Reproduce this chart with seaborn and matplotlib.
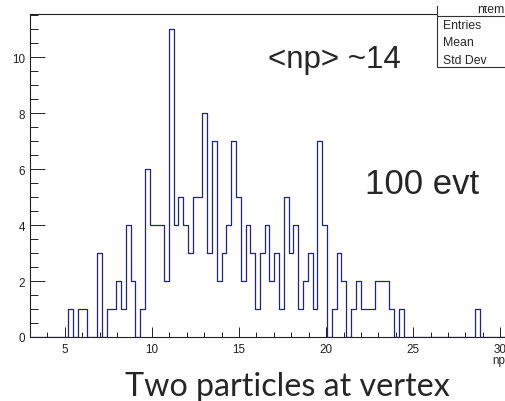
import numpy as np
import pandas as pd
import matplotlib
matplotlib.use("Agg")
import matplotlib.pyplot as plt
import seaborn as sns
from matplotlib.patches import Rectangle
from matplotlib.ticker import MultipleLocator

# ROOT-style histogram: 100 bins between 3 and 30.5
n_bins = 100
x_lo, x_hi = 3.0, 30.5

# entries per bin (10 bins per row)
counts = [
    0, 0, 0, 0, 0, 0, 0, 0, 1, 0,
    1, 1, 0, 0, 3, 0, 1, 1, 2, 1,
    4, 2, 0, 1, 6, 4, 4, 4, 2, 11,
    4, 5, 4, 3, 5, 5, 8, 3, 7, 2,
    3, 4, 7, 5, 2, 4, 3, 1, 3, 4,
    2, 3, 1, 5, 3, 4, 1, 2, 3, 1,
    7, 4, 0, 1, 3, 2, 0, 1, 2, 1,
    1, 1, 2, 2, 2, 1, 0, 1, 0, 0,
    0, 0, 0, 0, 0, 0, 0, 0, 0, 0,
    0, 0, 0, 1, 0, 0, 0, 0, 0, 0,
]

stat_labels = ["Entries", "Mean", "Std Dev"]
title_text = "Two particles at vertex"
mean_note = "<np> ~14"
events_note = "100 evt"

edges = np.linspace(x_lo, x_hi, n_bins + 1)
centers = 0.5 * (edges[:-1] + edges[1:])
df = pd.DataFrame({"np": centers, "entries": np.array(counts, dtype=float)})

sns.set_style("ticks")
plt.rcParams["font.family"] = ["Liberation Sans", "DejaVu Sans"]

W, H = 506, 402
fig = plt.figure(figsize=(W / 100, H / 100), dpi=100)


def fx(px):
    return px / W


def fy(py):
    return 1 - py / H


ax = fig.add_axes([fx(30), fy(338), 479 / W, 323 / H])
sns.histplot(data=df, x="np", weights="entries", bins=list(edges),
             element="step", fill=False, color="#22227f", linewidth=0.9, ax=ax)
ax.set_xlim(x_lo, x_hi)
ax.set_ylim(0, 11.55)
ax.set_xlabel("")
ax.set_ylabel("")

ax.xaxis.set_major_locator(MultipleLocator(5))
ax.xaxis.set_minor_locator(MultipleLocator(1))
ax.yaxis.set_major_locator(MultipleLocator(2))
ax.yaxis.set_minor_locator(MultipleLocator(0.5))
ax.tick_params(axis="x", which="major", direction="in", length=7.2, width=0.7,
               labelsize=8.4, pad=4, colors="#222222")
ax.tick_params(axis="x", which="minor", direction="in", length=3.6, width=0.7,
               colors="#222222")
ax.tick_params(axis="y", which="major", direction="in", length=10.8, width=0.7,
               labelsize=8.4, pad=3.5, colors="#222222")
ax.tick_params(axis="y", which="minor", direction="in", length=5.8, width=0.7,
               colors="#222222")
for side in ["left", "bottom", "top"]:
    ax.spines[side].set_color("#222222")
    ax.spines[side].set_linewidth(0.8)
ax.spines["right"].set_visible(False)

# x-axis title at the right end of the axis (ROOT style)
fig.text(fx(505), fy(364), "np", ha="right", va="baseline", fontsize=8.4)

# stats box, cut by the edge of the screenshot
fig.add_artist(Rectangle((fx(437), fy(68)), 0.2, 68 / H + 0.05,
                         transform=fig.transFigure, facecolor="white",
                         edgecolor="#333333", linewidth=0.8, zorder=5))
fig.add_artist(plt.Line2D([fx(437), 1.0], [fy(17.3), fy(17.3)],
                          transform=fig.transFigure, color="#333333",
                          linewidth=0.8, zorder=6))
fig.text(fx(477), fy(12.7), "ntem", fontsize=8.8, va="baseline", zorder=7)
fig.add_artist(Rectangle((fx(430), fy(7)), 0.2, 7 / H + 0.05,
                         transform=fig.transFigure, facecolor="white",
                         edgecolor="none", zorder=8))
for lab, base in zip(stat_labels, [29.3, 46, 63.5]):
    fig.text(fx(443), fy(base), lab, fontsize=8.8, va="baseline", zorder=7)

# slide annotations
fig.text(fx(268), fy(68.3), mean_note, fontsize=22.5, va="baseline")
fig.text(fx(365), fy(194.3), events_note, fontsize=25, va="baseline")
fig.text(fx(287.5), fy(396), title_text, fontsize=23.2, va="baseline",
         ha="center", family=["Lato", "DejaVu Sans"])

fig.savefig("out.png", dpi=100)
